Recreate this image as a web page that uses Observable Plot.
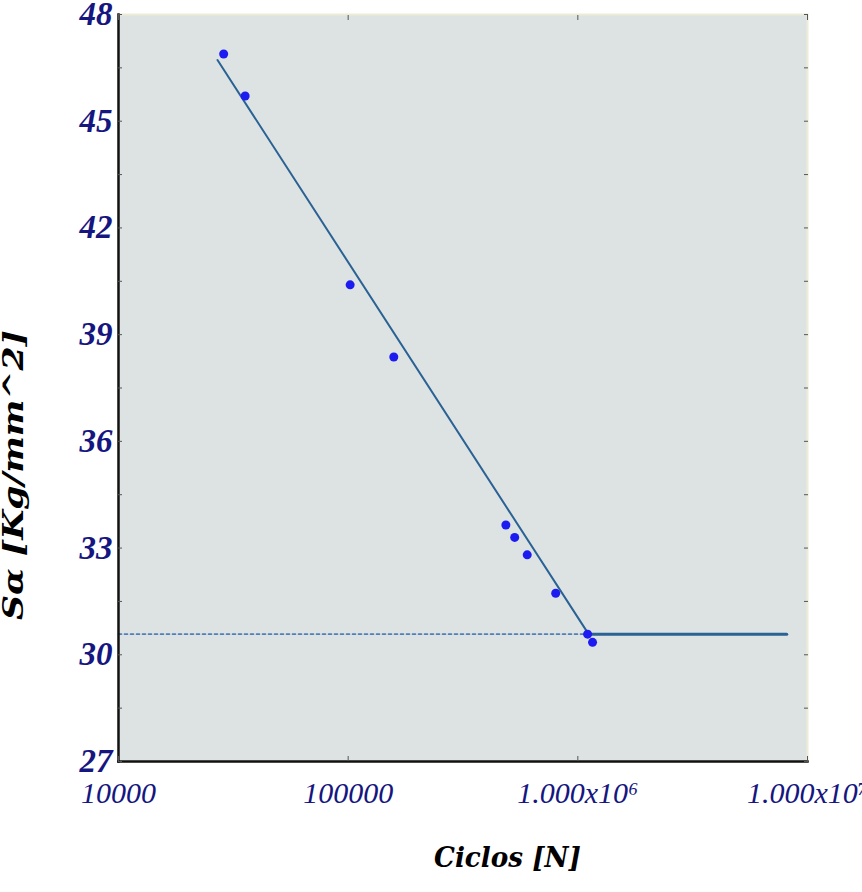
<!DOCTYPE html>
<html><head><meta charset="utf-8">
<script src="https://cdn.jsdelivr.net/npm/d3@7"></script>
<script src="https://cdn.jsdelivr.net/npm/@observablehq/plot@0.6"></script>
<style>html,body{margin:0;padding:0;background:#fff;overflow:hidden}</style>
</head><body><div id="chart"></div>
<script>
// Measured fatigue test points (cycles to failure, alternating stress)
const cycles = [28700, 35600, 102000, 158000, 486000, 531000, 602000, 801000, 1103000, 1159000];
const stress = [46.89, 45.71, 40.40, 38.37, 33.65, 33.30, 32.81, 31.73, 30.58, 30.35];
// Fitted S-N line (sloped part) and endurance plateau
const fitCycles = [26980, 1114000];
const fitStress = [46.72, 30.58];
const plateauCycles = [1114000, 8120000];
const plateauStress = [30.58, 30.58];
// Dotted reference line for the endurance limit
const refCycles = [10000, 1114000];
const refStress = [30.58, 30.58];
// Axis ticks
const xTicks = [10000, 100000, 1000000, 10000000];
const xTickLabels = ["10000", "100000", "1.000x10⁶", "1.000x10⁷"];
const yTicks = [27, 30, 33, 36, 39, 42, 45, 48];
const yMinorTicks = [27, 28.5, 30, 31.5, 33, 34.5, 36, 37.5, 39, 40.5, 42, 43.5, 45, 46.5, 48];
const xTitle = "Ciclos [N]";
const yTitle = "Sα [Kg/mm^2]";

const navy = "#161680";
const pts = cycles.map((c, i) => ({c, s: stress[i]}));
const fit = fitCycles.map((c, i) => ({c, s: fitStress[i]}));
const plateau = plateauCycles.map((c, i) => ({c, s: plateauStress[i]}));
const ref = refCycles.map((c, i) => ({c, s: refStress[i]}));

const chart = Plot.plot({
  width: 862,
  height: 892,
  marginLeft: 118,
  marginRight: 55,
  marginTop: 14,
  marginBottom: 131,
  style: {background: "#fff", overflow: "visible"},
  x: {type: "log", domain: [10000, 10000000]},
  y: {domain: [27, 48]},
  marks: [
    Plot.frame({fill: "#dde2e3", stroke: "#eeecd8", strokeWidth: 2}),
    Plot.line(ref, {x: "c", y: "s", stroke: "#4f7fb6", strokeWidth: 1.6, strokeDasharray: "3,3"}),
    Plot.line(fit, {x: "c", y: "s", stroke: "#2a6294", strokeWidth: 2}),
    Plot.line(plateau, {x: "c", y: "s", stroke: "#2a6294", strokeWidth: 3}),
    Plot.dot(pts, {x: "c", y: "s", r: 4.5, fill: "#1c1cf0", stroke: "none"}),
    Plot.frame({anchor: "left", stroke: "#111", strokeWidth: 2.5}),
    Plot.frame({anchor: "bottom", stroke: "#111", strokeWidth: 2.5}),
    // inward tick marks
    Plot.axisY(yMinorTicks, {anchor: "left", tickSize: -4, tickFormat: () => "", stroke: "#555", label: null}),
    Plot.axisY(yMinorTicks, {anchor: "right", tickSize: -4, tickFormat: () => "", stroke: "#555", label: null}),
    Plot.axisX(xTicks, {anchor: "bottom", tickSize: -5, tickFormat: () => "", stroke: "#555", label: null}),
    Plot.axisX(xTicks, {anchor: "top", tickSize: -5, tickFormat: () => "", stroke: "#555", label: null}),
    // tick labels
    Plot.axisY(yTicks, {anchor: "left", tickSize: 0, tickPadding: 6, tickFormat: d => String(d),
      fontSize: 33, fontWeight: "bold", fontStyle: "italic", fontFamily: "Liberation Serif", color: navy, label: null}),
    Plot.axisX(xTicks, {anchor: "bottom", tickSize: 0, tickPadding: 20, tickFormat: d => xTickLabels[xTicks.indexOf(d)],
      fontSize: 30, fontStyle: "italic", fontFamily: "Liberation Serif", color: navy, label: null}),
    // axis titles
    Plot.text([xTitle], {frameAnchor: "bottom", dx: -29, dy: 105, text: d => d, textAnchor: "start", fontSize: 28,
      fontWeight: "bold", fontStyle: "italic", fontFamily: "DejaVu Serif", fill: "#000"}),
    Plot.text([yTitle], {frameAnchor: "left", rotate: -90, dx: -104, dy: 232, text: d => d, textAnchor: "start", fontSize: 27,
      fontWeight: "bold", fontStyle: "italic", fontFamily: "DejaVu Serif", fill: "#000"})
  ]
});
document.getElementById("chart").appendChild(chart);
d3.select(chart).selectAll("text").each(function() {
  const t = this.textContent;
  if (t === yTitle) d3.select(this).attr("textLength", 290).attr("lengthAdjust", "spacingAndGlyphs");
  if (t === xTitle) d3.select(this).attr("textLength", 147).attr("lengthAdjust", "spacingAndGlyphs");
});
</script>
</body></html>
